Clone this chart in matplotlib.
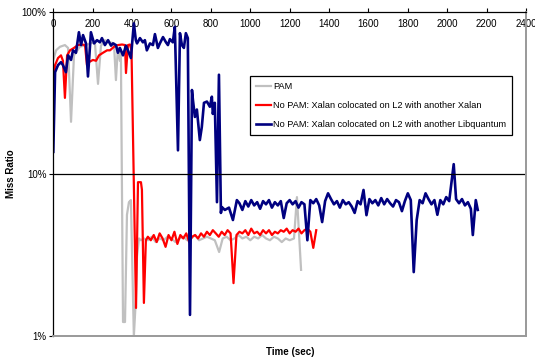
import matplotlib
matplotlib.use("Agg")
import matplotlib.pyplot as plt
from matplotlib.ticker import FixedLocator, NullLocator

plt.rcParams['font.family'] = ['Liberation Sans', 'DejaVu Sans']

# time in seconds, miss ratio in percent
gray_t = [0, 14, 34, 59, 75, 90, 105, 135, 166, 186,
          211, 227, 242, 262, 288, 308, 318, 328, 338, 343,
          354, 364, 374, 384, 394, 409, 419, 425, 435, 445,
          460, 480, 500, 520, 540, 560, 580, 600, 620, 640,
          660, 680, 700, 720, 740, 760, 780, 800, 820, 842,
          860, 880, 900, 920, 940, 960, 980, 1000, 1020, 1040,
          1060, 1080, 1100, 1120, 1140, 1160, 1180, 1200, 1222, 1237,
          1258]
gray_v = [50.6, 58, 61, 62.5, 60, 21, 54, 61, 62.5, 64,
          65, 36, 62, 67, 65, 64, 38, 60, 50, 58,
          1.22, 1.22, 5.6, 6.7, 6.9, 1.0, 1.67, 3.1, 4.0, 3.9,
          4.0, 3.9, 4.1, 3.8, 4.0, 3.9, 4.1, 4.0, 3.8, 4.0,
          4.1, 3.9, 4.0, 4.2, 3.9, 4.0, 4.1, 4.0, 3.9, 3.3,
          4.0, 4.1, 3.9, 4.0, 4.2, 4.0, 4.1, 3.9, 4.1, 4.0,
          4.2, 4.0, 3.9, 4.1, 4.0, 3.8, 4.0, 3.9, 4.0, 7.2,
          2.56]

red_t = [0, 9, 24, 39, 49, 59, 70, 85, 105, 125,
         146, 161, 171, 181, 201, 217, 232, 252, 273, 288,
         308, 328, 349, 364, 369, 379, 389, 397, 420, 430,
         445, 450, 460, 470,
         480, 495, 510, 525, 540, 555, 570, 585, 600, 615,
         630, 645, 660, 675, 690, 705, 720, 735, 750, 765,
         780, 795, 810, 825, 840, 855, 870, 885, 900, 915,
         930, 945, 960, 975, 990, 1005, 1020, 1035, 1050, 1065,
         1080, 1095, 1110, 1125, 1140, 1155, 1170, 1185, 1200, 1215,
         1230, 1245, 1260, 1275, 1290, 1305, 1320, 1335]
red_v = [39, 47, 52, 54, 50, 29.5, 54, 58, 60, 62.5,
         63, 62.5, 47, 49, 50.6, 50, 54, 56, 58, 58,
         61, 62.5, 63, 62.5, 42, 62.5, 63, 58, 1.49, 8.9,
         8.9, 8.0, 1.6, 3.9,
         4.1, 3.9, 4.2, 3.8, 4.3, 4.0, 3.55, 4.2, 3.9, 4.4,
         3.7, 4.2, 4.0, 4.3, 3.8, 4.1, 4.2, 4.0, 4.3, 4.1,
         4.4, 4.2, 4.5, 4.3, 4.1, 4.4, 4.2, 4.5, 4.3, 2.12,
         4.2, 4.4, 4.3, 4.5, 4.2, 4.6, 4.3, 4.4, 4.2, 4.5,
         4.3, 4.5, 4.2, 4.4, 4.3, 4.5, 4.4, 4.6, 4.3, 4.5,
         4.4, 4.6, 4.3, 4.5, 4.6, 4.4, 3.5, 4.5]

blue_t = [0, 9, 24, 39, 49, 64, 75, 90, 100, 115,
          130, 141, 151, 166, 176, 191, 207, 222, 237, 247,
          262, 278, 293, 303, 318, 328, 338, 354, 369, 379,
          394, 409, 419, 425, 440, 455, 465, 475, 491, 506,
          516, 531, 541, 557, 572, 582, 592, 607, 617, 633,
          643, 653, 663, 673, 683, 694, 704, 709, 719, 729,
          744, 754, 765, 780, 795, 805, 810, 820, 831, 841,
          851, 856, 871, 892, 912, 932,
          945, 960, 975, 990, 1005, 1020, 1035, 1050, 1065, 1080,
          1095, 1110, 1125, 1140, 1155, 1170, 1185, 1200, 1215, 1230,
          1245, 1260, 1275, 1290, 1305, 1320, 1335, 1350, 1365, 1380,
          1395, 1410, 1425, 1440, 1455, 1470, 1485, 1500, 1515, 1530,
          1545, 1560, 1575, 1590, 1605, 1620, 1635, 1650, 1665, 1680,
          1695, 1710, 1725, 1740, 1755, 1770, 1785, 1800, 1815, 1830,
          1845, 1860, 1875, 1890, 1905, 1920, 1935, 1950, 1965, 1980,
          1995, 2010, 2033, 2045, 2060, 2075, 2090, 2105, 2120, 2130,
          2145, 2155]
blue_v = [13.7, 42.5, 47, 49, 47, 42.5, 54, 50.6, 58, 56,
          75, 62.5, 72, 64, 40, 75, 64, 67, 65, 69,
          62.5, 67, 62, 64, 62.5, 56, 60, 54, 62, 58,
          52, 85, 67, 64, 69, 65, 67, 58, 64, 62.5,
          73, 60, 64, 70, 65, 62.5, 68, 65, 81, 14,
          74, 62.5, 60, 74, 69, 1.35, 33, 28.6, 22.5, 25,
          16.2, 19.5, 27.5, 28, 26, 30, 23.5, 27.5, 6.7, 41,
          5.75, 6.25, 6.0, 6.2, 5.2, 6.9,
          6.6, 6.0, 6.8, 6.3, 6.9, 6.4, 6.7, 6.1, 6.8, 6.5,
          6.9, 6.2, 6.7, 6.4, 6.8, 5.35, 6.6, 6.9, 6.5, 6.8,
          6.2, 6.7, 6.5, 3.9, 6.9, 6.6, 7.0, 6.4, 5.05, 6.8,
          7.6, 7.0, 6.5, 6.8, 6.2, 6.9, 6.5, 6.7, 6.3, 5.75,
          6.8, 6.5, 7.97, 5.57, 7.0, 6.6, 6.9, 6.4, 7.1, 6.5,
          7.0, 6.6, 6.3, 6.9, 6.7, 5.9, 6.8, 7.6, 6.9, 2.48,
          5.2, 6.9, 6.6, 7.6, 7.0, 6.5, 6.9, 5.6, 6.9, 6.5,
          7.2, 6.8, 11.5, 7.0, 6.6, 7.0, 6.4, 6.7, 6.1, 4.2,
          6.9, 6.0]

labels = ["PAM",
          "No PAM: Xalan colocated on L2 with another Xalan",
          "No PAM: Xalan colocated on L2 with another Libquantum"]
x_ticks = [0, 200, 400, 600, 800, 1000, 1200, 1400, 1600, 1800, 2000, 2200, 2400]
y_ticks = [1, 10, 100]
y_ticklabels = ["1%", "10%", "100%"]

fig = plt.figure(figsize=(5.35, 3.6), dpi=100)
ax = fig.add_axes([53.3 / 535, 24 / 360, 472.7 / 535, 324 / 360])

ax.plot(gray_t, gray_v, color="#c0c0c0", lw=1.6, label=labels[0])
ax.plot(red_t, red_v, color="#ff0000", lw=1.6, label=labels[1])
ax.plot(blue_t, blue_v, color="#000080", lw=1.9, label=labels[2])

ax.set_yscale("log")
ax.set_ylim(1, 100)
ax.set_xlim(0, 2400)
ax.yaxis.set_major_locator(FixedLocator(y_ticks))
ax.yaxis.set_minor_locator(NullLocator())
ax.set_yticklabels(y_ticklabels)
ax.set_xticks(x_ticks)
ax.axhline(10, color="black", lw=0.9)

# x labels sit just under the top spine, like the Excel original
ax.tick_params(axis="x", top=True, bottom=False, labeltop=True, labelbottom=False,
               direction="out", length=3, width=0.8, pad=-15, labelsize=7)
ax.tick_params(axis="y", direction="out", length=3, width=0.8, pad=2, labelsize=7)

for side in ["top", "left"]:
    ax.spines[side].set_color("black")
    ax.spines[side].set_linewidth(0.9)
for side in ["bottom", "right"]:
    ax.spines[side].set_color("#999999")
    ax.spines[side].set_linewidth(1.4)

fig.text(0.021, 0.518, "Miss Ratio", rotation=90, fontsize=7, fontweight="bold",
         ha="center", va="center")
fig.text(0.542, 0.022, "Time (sec)", fontsize=7, fontweight="bold", ha="center", va="center")

leg = ax.legend(loc="upper left", bbox_to_anchor=(0.416, 0.802), fontsize=6.6,
                frameon=True, fancybox=False, framealpha=1, edgecolor="black",
                handlelength=1.65, handletextpad=0.2, borderpad=0.65,
                labelspacing=1.1, borderaxespad=0)
leg.get_frame().set_linewidth(0.9)

plt.savefig("out.png", dpi=100)
